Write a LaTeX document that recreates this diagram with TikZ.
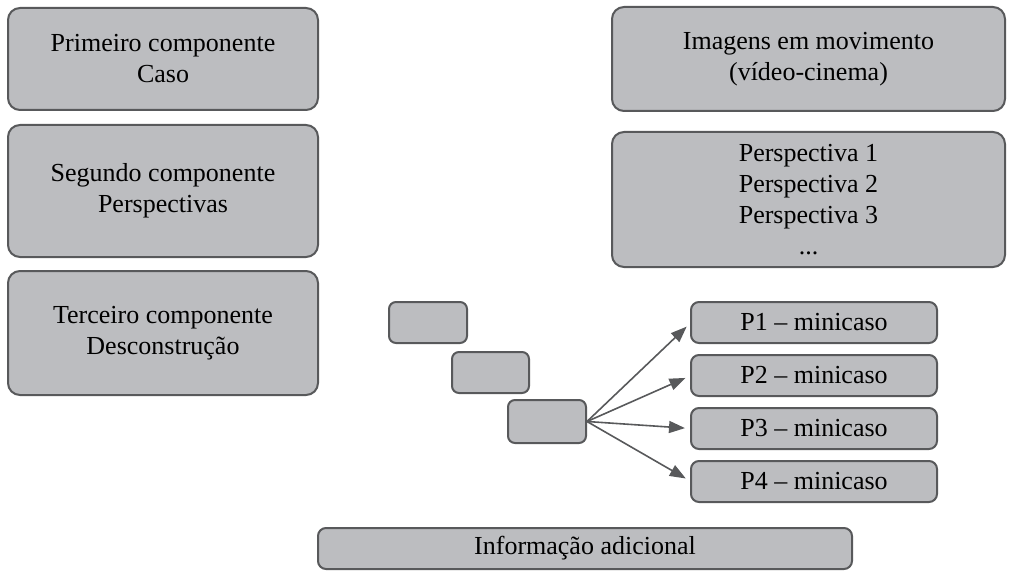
\documentclass[tikz,border=0pt]{standalone}
\usepackage{fontspec}
\setmainfont{Liberation Serif}
\usepackage{xcolor}
\usetikzlibrary{positioning,arrows.meta}
\definecolor{boxfill}{HTML}{BCBDC0}
\definecolor{boxline}{HTML}{58595B}

\begin{document}
\begin{tikzpicture}[x=1pt, y=1pt,
  bigbox/.style={draw=boxline, line width=2pt, fill=boxfill, rounded corners=12pt, align=center, font=\fontsize{26}{31}\selectfont, inner sep=4pt, outer sep=0pt},
  leftbox/.style={bigbox, minimum width=310pt},
  rightbox/.style={bigbox, minimum width=393pt},
  pbox/.style={bigbox, rounded corners=8pt, minimum width=246pt, minimum height=41pt, inner sep=2pt},
  stepbox/.style={draw=boxline, line width=2pt, fill=boxfill, rounded corners=7pt, minimum width=78pt, minimum height=41pt},
  arr/.style={-{Triangle[length=16pt, width=12pt]}, draw=boxline, fill=boxline, line width=1.6pt, shorten >=6pt}
]
\useasboundingbox (0,0) rectangle (1012,-572);

% left column
\node[leftbox, minimum height=102pt] (prim) at (163,-59) {Primeiro componente\\ Caso};
\node[leftbox, minimum height=132pt, below=15pt of prim] (seg) {Segundo componente\\ Perspectivas};
\node[leftbox, minimum height=124pt, below=14pt of seg] (terc) {Terceiro componente\\ Desconstrução};

% right column
\node[rightbox, minimum height=104pt] (imag) at (808.5,-59) {Imagens em movimento\\ (vídeo-cinema)};
\node[rightbox, minimum height=135pt, below=21pt of imag] (persp) {Perspectiva 1\\ Perspectiva 2\\ Perspectiva 3\\ ...};

% steps
\node[stepbox] (sa) at (428,-322.5) {};
\node[stepbox, minimum width=77pt] (sb) at (490.5,-372.5) {};
\node[stepbox, minimum height=43pt] (sc) at (547,-421.5) {};

% minicasos
\node[pbox] (p1) at (814,-322.5) {P1 -- minicaso};
\node[pbox, below=12pt of p1] (p2) {P2 -- minicaso};
\node[pbox, below=12pt of p2] (p3) {P3 -- minicaso};
\node[pbox, below=12pt of p3] (p4) {P4 -- minicaso};

\node[pbox, minimum width=534pt] (info) at (585,-548.5) {Informação adicional};

\draw[arr] (sc.east) -- (p1.west);
\draw[arr] (sc.east) -- (p2.west);
\draw[arr] (sc.east) -- (p3.west);
\draw[arr] (sc.east) -- (p4.west);
\end{tikzpicture}
\end{document}
